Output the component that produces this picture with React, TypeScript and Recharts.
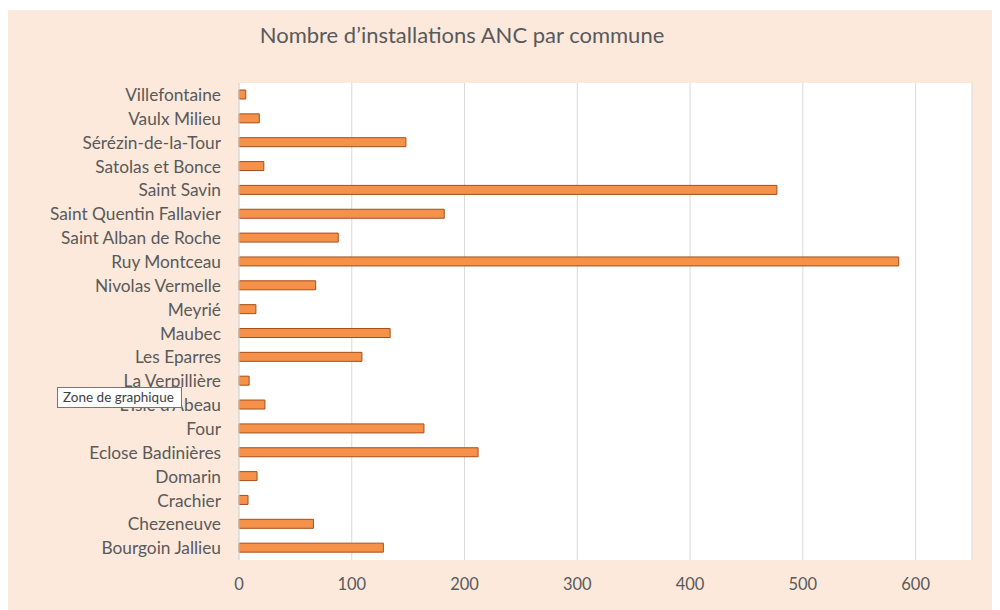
import React from "react";
import { BarChart, Bar, XAxis, YAxis, CartesianGrid } from "recharts";

const communes = [
  "Villefontaine",
  "Vaulx Milieu",
  "Sérézin-de-la-Tour",
  "Satolas et Bonce",
  "Saint Savin",
  "Saint Quentin Fallavier",
  "Saint Alban de Roche",
  "Ruy Montceau",
  "Nivolas Vermelle",
  "Meyrié",
  "Maubec",
  "Les Eparres",
  "La Verpillière",
  "L’Isle d’Abeau",
  "Four",
  "Eclose Badinières",
  "Domarin",
  "Crachier",
  "Chezeneuve",
  "Bourgoin Jallieu",
];

const installations = [6, 18, 148, 22, 477, 182, 88, 585, 68, 15, 134, 109, 9, 23, 164, 212, 16, 8, 66, 128];

const xTicks = [0, 100, 200, 300, 400, 500, 600];

const data = communes.map((c, i) => ({ commune: c, value: installations[i] }));

const FONT = "Lato, 'Open Sans', sans-serif";

export default function App() {
  return (
    <div
      style={{
        position: "relative",
        marginTop: 2,
        width: 992,
        height: 600,
        background: "#FCE9DC",
        fontFamily: FONT,
      }}
    >
      <div
        style={{
          position: "absolute",
          left: 0,
          width: 908,
          top: 11,
          textAlign: "center",
          fontSize: 22,
          color: "#595959",
        }}
      >
        Nombre d’installations ANC par commune
      </div>
      <BarChart
        width={992}
        height={600}
        layout="vertical"
        data={data}
        margin={{ top: 73, right: 28, bottom: 0, left: 0 }}
        barCategoryGap="30%"
      >
        <CartesianGrid horizontal={false} stroke="#D9D9D9" fill="#FFFFFF" />
        <XAxis
          type="number"
          domain={[0, 650]}
          ticks={xTicks}
          axisLine={false}
          tickLine={false}
          tickMargin={12}
          height={50}
          tick={{ fill: "#595959", fontSize: 16.5, fontFamily: FONT }}
        />
        <YAxis
          type="category"
          dataKey="commune"
          width={231}
          axisLine={{ stroke: "#D9D9D9" }}
          tickLine={false}
          tickMargin={12}
          interval={0}
          tick={{ fill: "#595959", fontSize: 17.3, fontFamily: FONT }}
        />
        <Bar
          dataKey="value"
          fill="#F6914A"
          stroke="#A34F1E"
          strokeWidth={1}
          barSize={9}
          isAnimationActive={false}
        />
      </BarChart>
      <div
        style={{
          position: "absolute",
          left: 49,
          top: 377,
          width: 118,
          height: 19,
          background: "#FFFFFF",
          border: "1px solid #767676",
          fontSize: 13.5,
          color: "#404040",
          lineHeight: "19px",
          paddingLeft: 5,
          boxSizing: "content-box",
        }}
      >
        Zone de graphique
      </div>
    </div>
  );
}
